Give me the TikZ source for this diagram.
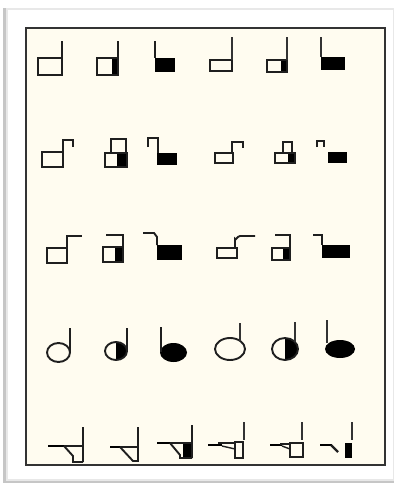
\documentclass[tikz,border=0pt]{standalone}
\begin{document}
\begin{tikzpicture}[x=1pt,y=-1pt,
  gl/.style={draw=black!88, line width=1.9pt, line join=miter},
  thin stem/.style={draw=black!80, line width=1.4pt},
  bar/.style={draw=black, line width=2.8pt},
  blk/.style={fill=black}]
\definecolor{cream}{RGB}{255,252,240}
\useasboundingbox (0,0) rectangle (398,484);
\fill[white] (0,0) rectangle (398,484);
% card with shadow
\fill[gray!45] (3,8) rectangle (394,483);
\fill[gray!18] (6,8) rectangle (394,481);
\fill[white] (8,10) rectangle (393,479);
% inner frame
\draw[fill=cream, draw=black!80, line width=1.3pt] (26,28) rectangle (385,465);

% ---------- Row 1 ----------
\draw[gl] (38,58) rectangle (62,75); \draw[gl] (62,58)--(62,41);
\fill[blk] (112,58) rectangle (118,75); \draw[gl] (97,58) rectangle (118,75); \draw[gl] (118,58)--(118,41);
\fill[blk] (155,58) rectangle (175,72); \draw[gl] (155,58)--(155,41);
\draw[gl] (210,60) rectangle (232,71); \draw[thin stem] (232,60)--(232,37);
\fill[blk] (281,60) rectangle (287,72); \draw[gl] (267,60) rectangle (287,72); \draw[thin stem] (287,60)--(287,37);
\fill[blk] (321,57) rectangle (345,70); \draw[thin stem] (321,57)--(321,37);

% ---------- Row 2 ----------
\draw[gl] (42,152) rectangle (63,167); \draw[gl] (63,152)--(63,140)--(73,140)--(73,147);
\fill[blk] (117,153) rectangle (127,167); \draw[gl] (105,153) rectangle (127,167); \draw[gl] (111,153)--(111,139)--(126,139)--(126,153);
\draw[gl] (148,147)--(148,138)--(158,138)--(158,153); \fill[blk] (157,153) rectangle (177,165);
\draw[gl] (215,153) rectangle (233,163); \draw[gl] (232,153)--(232,142)--(243,142)--(243,148);
\fill[blk] (288,153) rectangle (295,163); \draw[gl] (275,153) rectangle (295,163); \draw[gl] (283,153)--(283,142)--(292,142)--(292,153);
\draw[gl] (317,147)--(317,141)--(324,141)--(324,147); \fill[blk] (328,152) rectangle (347,163);

% ---------- Row 3 ----------
\draw[gl] (47,248) rectangle (67,263); \draw[gl] (67,248)--(67,236)--(82,236);
\fill[blk] (115,247) rectangle (123,262); \draw[gl] (103,247) rectangle (123,262); \draw[gl] (123,247)--(123,235)--(106,235);
\draw[gl] (143,233)--(154,233)--(157,237)--(157,245); \fill[blk] (157,245) rectangle (182,260);
\draw[gl] (217,248) rectangle (237,258); \draw[gl] (235,248)--(235,239) to[out=-90,in=180] (240,236)--(255,236);
\fill[blk] (283,248) rectangle (290,260); \draw[gl] (272,248) rectangle (290,260); \draw[gl] (290,248)--(290,235)--(275,235);
\draw[gl] (313,235)--(322,235)--(322,245); \fill[blk] (322,245) rectangle (350,258);

% ---------- Row 4 ----------
\draw[gl] (58.5,352.5) ellipse [x radius=11.5pt, y radius=9.5pt]; \draw[gl] (70,352)--(70,328);
\begin{scope}\clip (116,338) rectangle (130,364); \fill[blk] (116,351) ellipse [x radius=11pt, y radius=9pt];\end{scope}
\draw[gl] (116,351) ellipse [x radius=11pt, y radius=9pt]; \draw[gl] (127,351)--(127,328);
\fill[blk] (173.5,352.5) ellipse [x radius=13.5pt, y radius=9.5pt]; \draw[gl] (161,352)--(161,327);
\draw[gl] (230,349) ellipse [x radius=15pt, y radius=11pt]; \draw[thin stem] (240,341)--(240,323);
\begin{scope}\clip (285,336) rectangle (300,362); \fill[blk] (285,349) ellipse [x radius=13pt, y radius=11pt];\end{scope}
\draw[gl] (285,349) ellipse [x radius=13pt, y radius=11pt]; \draw[thin stem] (295,342)--(295,322);
\fill[blk] (340,349) ellipse [x radius=15pt, y radius=9pt]; \draw[thin stem] (327,343)--(327,320);

% ---------- Row 5 ----------
\draw[bar] (48,446)--(70,446);
\draw[gl] (64,446)--(83,446); \draw[gl] (64,446)--(73,456)--(73,462)--(83,462);
\draw[gl, line width=2.2pt] (83,427)--(83,462);
\draw[bar] (110,447)--(124,447);
\draw[gl] (120,447)--(138,447); \draw[gl] (120,447)--(133,461)--(138,461);
\draw[gl, line width=2.4pt] (138,427)--(138,462);
\draw[bar] (157,443)--(172,443);
\fill[blk] (183,443) rectangle (192,458);
\draw[gl] (170,443)--(192,443); \draw[gl] (170,443)--(180,455)--(180,458)--(192,458);
\draw[gl, line width=2.8pt] (192,425)--(192,458);
\draw[bar] (208,445)--(222,445);
\draw[gl, line width=1.4pt] (218,443)--(235,443); \draw[gl, line width=1.4pt] (222,446)--(235,449);
\draw[gl] (235,442) rectangle (243,458); \draw[thin stem] (244,422)--(244,440);
\draw[bar] (270,445)--(282,445);
\draw[gl, line width=1.4pt] (280,444)--(290,444); \draw[gl, line width=1.4pt] (282,446)--(290,449);
\draw[gl] (290,443) rectangle (303,457); \draw[thin stem] (302,422)--(302,440);
\draw[bar] (320,445)--(332,445); \draw[gl, line width=2.2pt] (331,445)--(338,452);
\fill[blk] (345,443) rectangle (352,458); \draw[thin stem] (352,422)--(352,440);
\end{tikzpicture}
\end{document}
